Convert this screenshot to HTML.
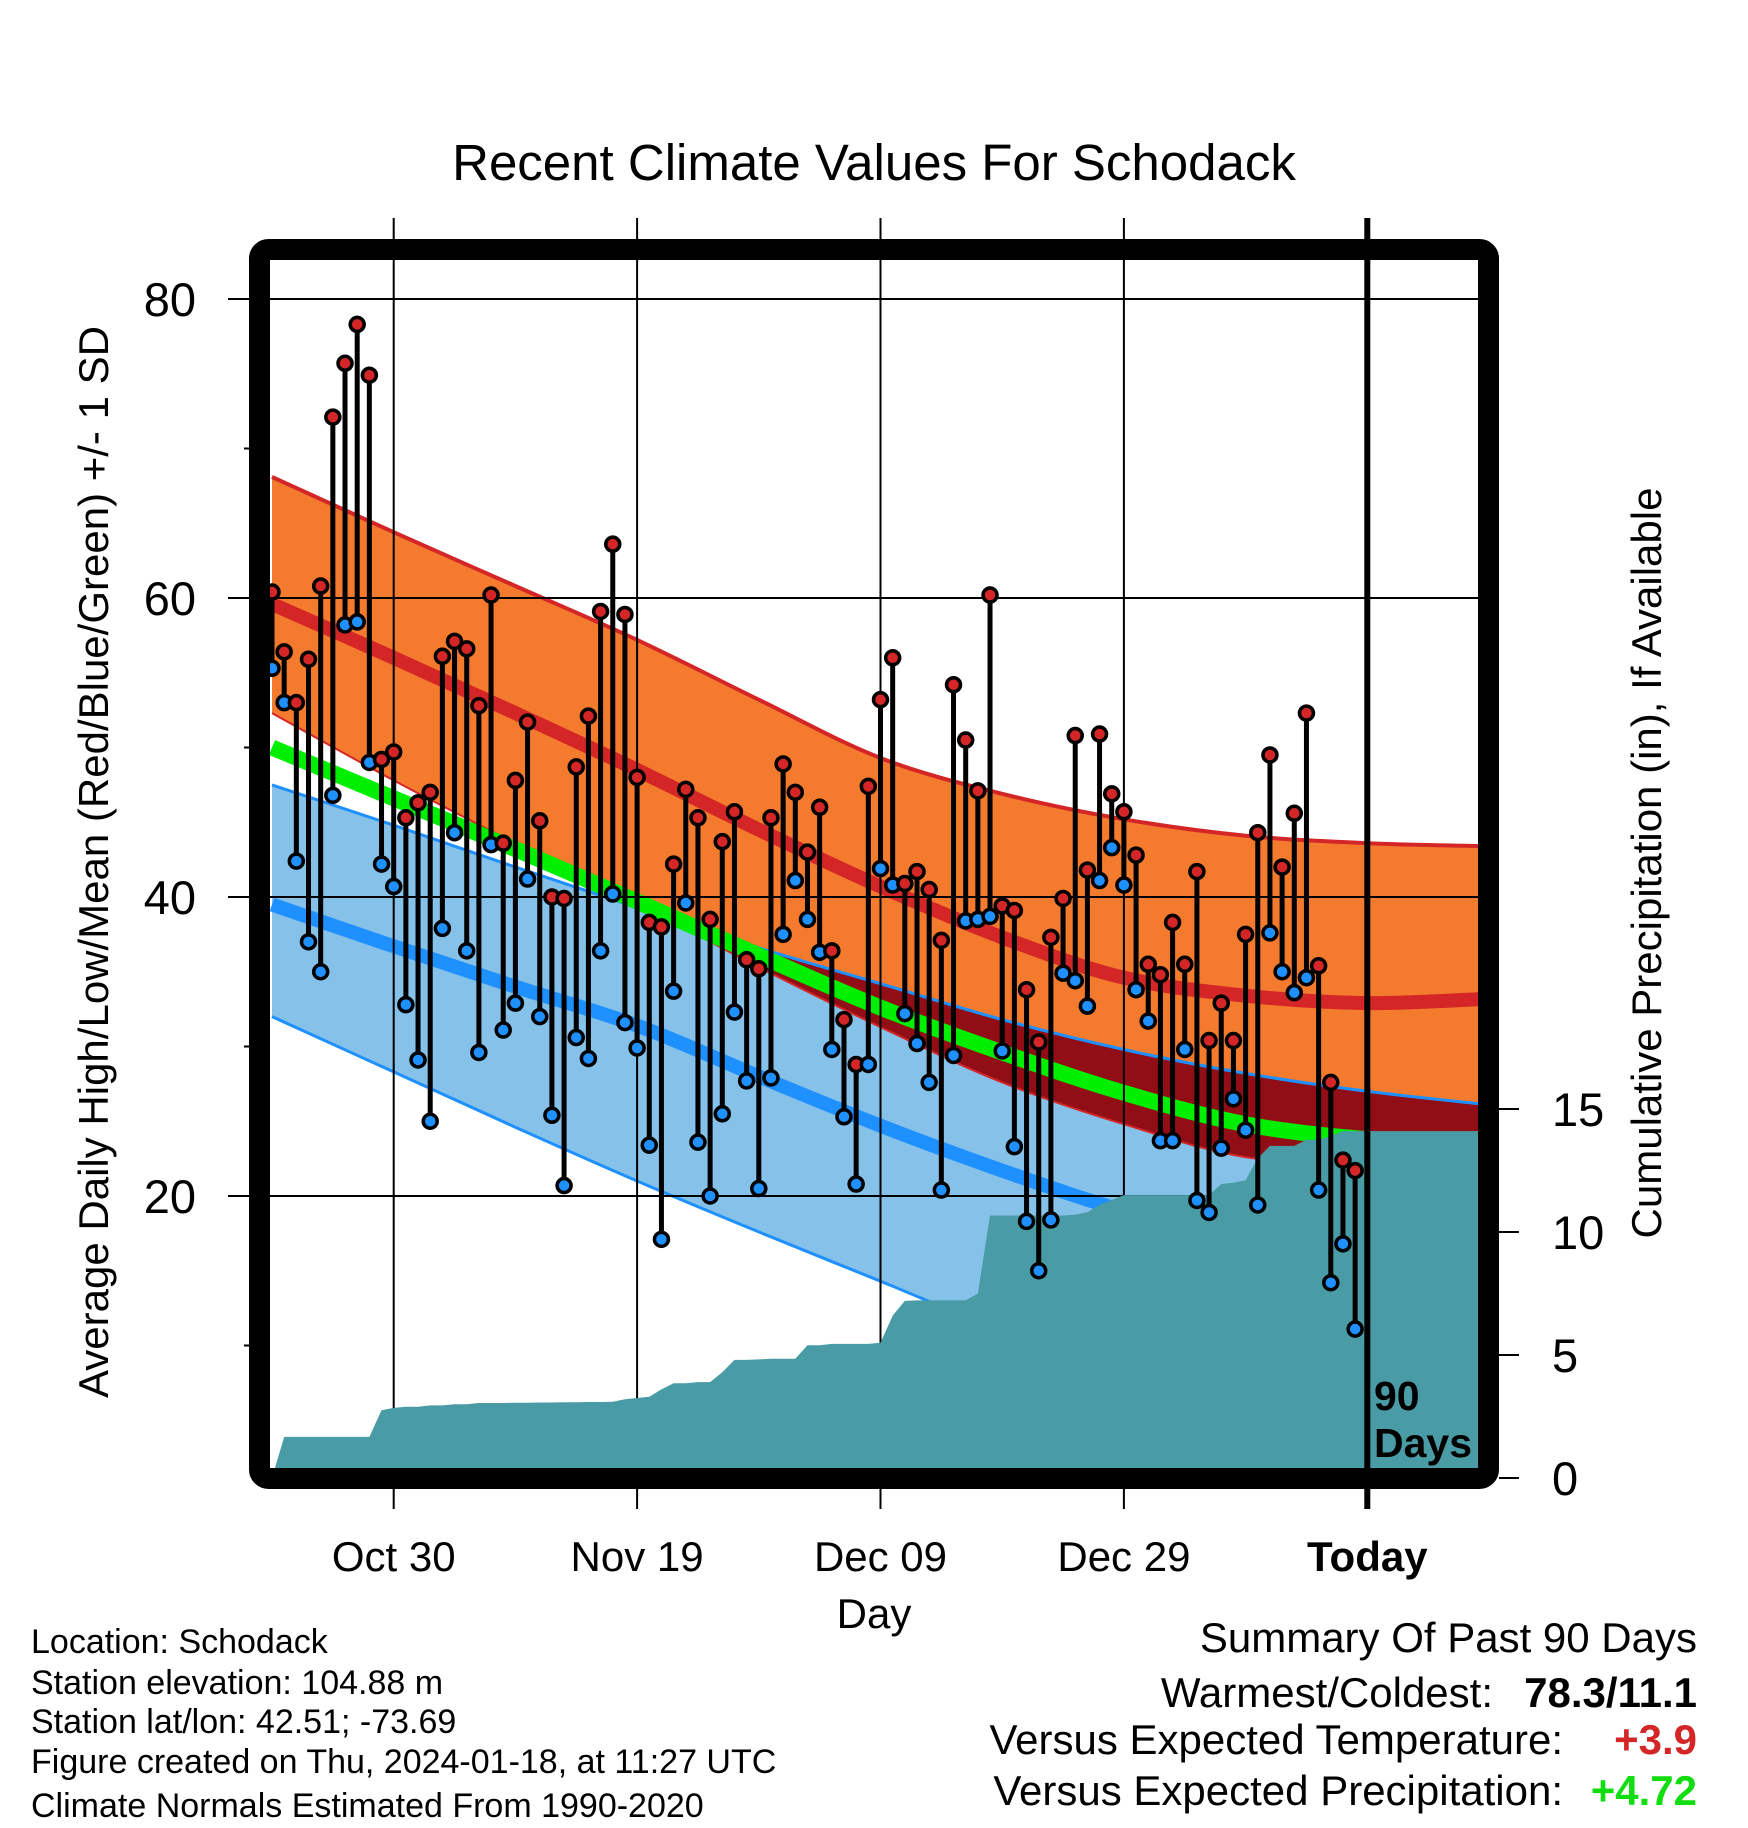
<!DOCTYPE html>
<html><head><meta charset="utf-8">
<style>
html,body{margin:0;padding:0;background:#fff;}
svg{display:block;font-family:"Liberation Sans",Arial,sans-serif;}
</style></head>
<body>
<svg id="chart" width="1748" height="1828" viewBox="0 0 1748 1828" xmlns="http://www.w3.org/2000/svg">
<defs>
  <clipPath id="plotClip"><rect x="270" y="260" width="1208" height="1208"/></clipPath>
  <clipPath id="blueClip"><path id="blueClipPath" d=""/></clipPath>
</defs>
<text x="874" y="180" font-size="51" text-anchor="middle">Recent Climate Values For Schodack</text>
<g id="bands" clip-path="url(#plotClip)"></g>
<g id="grid"></g>
<g id="precip" clip-path="url(#plotClip)"></g>
<g id="stems"></g>
<g id="axes"></g>
<rect x="259.5" y="249.5" width="1229" height="1229" rx="9" fill="none" stroke="#000" stroke-width="21"/>
<text x="1374" y="1410" font-size="41" font-weight="bold">90</text>
<text x="1374" y="1457" font-size="41" font-weight="bold">Days</text>
<text transform="translate(108,862) rotate(-90)" font-size="42" text-anchor="middle">Average Daily High/Low/Mean (Red/Blue/Green) +/- 1 SD</text>
<text transform="translate(1661,863) rotate(-90)" font-size="42" text-anchor="middle">Cumulative Precipitation (in), If Available</text>
<text x="874" y="1628" font-size="42" text-anchor="middle">Day</text>
<g font-size="34">
  <text x="31" y="1653">Location: Schodack</text>
  <text x="31" y="1694">Station elevation: 104.88 m</text>
  <text x="31" y="1733">Station lat/lon: 42.51; -73.69</text>
  <text x="31" y="1773">Figure created on Thu, 2024-01-18, at 11:27 UTC</text>
  <text x="31" y="1817">Climate Normals Estimated From 1990-2020</text>
</g>
<g font-size="42">
  <text x="1697" y="1652" text-anchor="end">Summary Of Past 90 Days</text>
  <text x="1493" y="1707" text-anchor="end">Warmest/Coldest:</text>
  <text x="1697" y="1707" text-anchor="end" font-weight="bold">78.3/11.1</text>
  <text x="1563" y="1754" text-anchor="end">Versus Expected Temperature:</text>
  <text x="1697" y="1754" text-anchor="end" font-weight="bold" fill="#d42626">+3.9</text>
  <text x="1563" y="1805" text-anchor="end">Versus Expected Precipitation:</text>
  <text x="1697" y="1805" text-anchor="end" font-weight="bold" fill="#11dd11">+4.72</text>
</g>
</svg>
<script>
const highs=[60.4,56.4,53,55.9,60.8,72.1,75.7,78.3,74.9,49.2,49.7,45.3,46.3,47,56.1,57.1,56.6,52.8,60.2,43.6,47.8,51.7,45.1,40,39.9,48.7,52.1,59.1,63.6,58.9,48,38.3,38,42.2,47.2,45.3,38.5,43.7,45.7,35.8,35.2,45.3,48.9,47,43,46,36.4,31.8,28.8,47.4,53.2,56,40.9,41.7,40.5,37.1,54.2,50.5,47.1,60.2,39.4,39.1,33.8,30.3,37.3,39.9,50.8,41.8,50.9,46.9,45.7,42.8,35.5,34.8,38.3,35.5,41.7,30.4,32.9,30.4,37.5,44.3,49.5,42,45.6,52.3,35.4,27.6,22.4,21.7];
const lows=[55.3,53,42.4,37,35,46.8,58.2,58.4,49,42.2,40.7,32.8,29.1,25,37.9,44.3,36.4,29.6,43.5,31.1,32.9,41.2,32,25.4,20.7,30.6,29.2,36.4,40.2,31.6,29.9,23.4,17.1,33.7,39.6,23.6,20,25.5,32.3,27.7,20.5,27.9,37.5,41.1,38.5,36.3,29.8,25.3,20.8,28.8,41.9,40.8,32.2,30.2,27.6,20.4,29.4,38.4,38.5,38.7,29.7,23.3,18.3,15,18.4,34.9,34.4,32.7,41.1,43.3,40.8,33.8,31.7,23.7,23.7,29.8,19.7,18.9,23.2,26.5,24.4,19.4,37.6,35,33.6,34.6,20.4,14.2,16.8,11.1];
const precip=[0,1.67,1.67,1.67,1.67,1.67,1.67,1.67,1.67,2.75,2.85,2.9,2.9,2.95,2.95,3.0,3.0,3.05,3.05,3.05,3.06,3.06,3.07,3.07,3.08,3.08,3.09,3.09,3.1,3.2,3.25,3.3,3.6,3.85,3.85,3.9,3.9,4.3,4.8,4.8,4.82,4.85,4.85,4.85,5.4,5.4,5.45,5.45,5.45,5.45,5.5,6.6,7.2,7.22,7.22,7.22,7.22,7.22,7.5,10.67,10.67,10.67,10.67,10.67,10.67,10.67,10.7,10.8,11.1,11.3,11.5,11.5,11.5,11.5,11.5,11.5,11.5,11.5,11.95,12.0,12.1,13.0,13.5,13.5,13.5,13.75,13.75,13.9,14.1,14.1];
const normalDays=[0,10,20,30,40,50,60,70,80,90,100];
const highPlusSD=[68.1,64.4,60.8,57.2,53.2,49.3,46.9,45.2,44.1,43.6,43.4];
const highMean=[59.6,56.0,52.3,48.5,44.5,40.7,37.3,34.6,33.4,32.9,33.2];
const highMinusSD=[52.3,47.8,43.6,39.6,35.3,31.3,27.6,24.8,22.6,22.2,22.7];
const lowPlusSD=[47.5,44.8,42.0,39.3,36.6,34.2,31.8,29.8,28.2,27.0,26.1];
const lowMean=[39.5,36.7,34.0,31.4,28.0,24.7,21.7,19.0,17.0,15.5,14.5];
const lowMinusSD=[32.0,28.3,24.6,21.0,17.6,14.3,11.0,8.5,6.5,5.0,4.0];
const avgMean=[50.0,46.6,43.2,39.7,36.1,32.6,29.6,26.9,24.8,23.8,23.5];
const tempTicks=[20,40,60,80];
const minorTicks=[10,30,50,70];
const precipTicks=[0,5,10,15];
const dateLabels=["Oct 30","Nov 19","Dec 09","Dec 29","Today"];
const dateDays=[10,30,50,70,90];

const NS="http://www.w3.org/2000/svg";
function X(d){return 272+d*12.17;}
function Y(t){return 1495-t*14.95;}
function P(p){return 1478-p*24.6;}
function mk(tag,attrs,parent){const e=document.createElementNS(NS,tag);for(const k in attrs)e.setAttribute(k,attrs[k]);parent.appendChild(e);return e;}
function pts(arr){return normalDays.map((d,i)=>[X(d),Y(arr[i])]);}
function smooth(p){
  let s="";
  for(let i=0;i<p.length-1;i++){
    const p0=p[Math.max(i-1,0)],p1=p[i],p2=p[i+1],p3=p[Math.min(i+2,p.length-1)];
    const c1=[p1[0]+(p2[0]-p0[0])/6,p1[1]+(p2[1]-p0[1])/6];
    const c2=[p2[0]-(p3[0]-p1[0])/6,p2[1]-(p3[1]-p1[1])/6];
    s+="C"+c1[0].toFixed(1)+","+c1[1].toFixed(1)+" "+c2[0].toFixed(1)+","+c2[1].toFixed(1)+" "+p2[0].toFixed(1)+","+p2[1].toFixed(1);
  }
  return s;
}
function linePath(arr){const p=pts(arr);return "M"+p[0][0].toFixed(1)+","+p[0][1].toFixed(1)+smooth(p);}
function bandPath(up,lo){
  const a=pts(up),b=pts(lo).reverse();
  return "M"+a[0][0].toFixed(1)+","+a[0][1].toFixed(1)+smooth(a)+"L"+b[0][0].toFixed(1)+","+b[0][1].toFixed(1)+smooth(b)+"Z";
}

const bands=document.getElementById('bands');
const orangeD=bandPath(highPlusSD,highMinusSD);
const blueD=bandPath(lowPlusSD,lowMinusSD);
document.getElementById('blueClipPath').setAttribute('d',blueD);
let e;
e=mk('path',{d:orangeD,fill:'#f47a2e'},bands);


e=mk('path',{d:blueD,fill:'#85c1e8'},bands);


e=mk('path',{d:orangeD,fill:'#920e16','clip-path':'url(#blueClip)'},bands);


const lines=[[highPlusSD,'#d42626',4,'high-plus-sd-line'],[highMinusSD,'#d42626',2,'high-minus-sd-line'],[highMean,'#d42626',14,'mean-high-line'],[lowPlusSD,'#1e90ff',3,'low-plus-sd-line'],[lowMinusSD,'#1e90ff',3,'low-minus-sd-line'],[lowMean,'#1e90ff',14,'mean-low-line'],[avgMean,'#00ee00',16,'mean-line']];
lines.forEach(l=>{
  const el=mk('path',{d:linePath(l[0]),fill:'none',stroke:l[1],'stroke-width':l[2]},bands);
  
  
});

const grid=document.getElementById('grid');
tempTicks.forEach(t=>{
  const el=mk('line',{x1:228,x2:1478,y1:Y(t),y2:Y(t),stroke:'#000','stroke-width':2},grid);
  
  
});
minorTicks.forEach(t=>{
  const el=mk('line',{x1:244,x2:260,y1:Y(t),y2:Y(t),stroke:'#000','stroke-width':2},grid);
  
  
});
dateDays.slice(0,4).forEach(d=>{
  const el=mk('line',{x1:X(d),x2:X(d),y1:218,y2:1509,stroke:'#000','stroke-width':2},grid);
  
  
});

const pg=document.getElementById('precip');
let pd="M"+X(0)+","+P(0);
precip.forEach((p,i)=>{pd+="L"+X(i).toFixed(1)+","+P(p).toFixed(1);});
pd+="L1480,"+P(precip[precip.length-1]).toFixed(1)+"L1480,1480L"+X(0)+",1480Z";
e=mk('path',{d:pd,fill:'#499ba5'},pg);



const sg=document.getElementById('stems');
highs.forEach((h,i)=>{
  const x=X(i);
  const s=mk('line',{x1:x,x2:x,y1:Y(h),y2:Y(lows[i]),stroke:'#000','stroke-width':5},sg);
  
  
});
highs.forEach((h,i)=>{
  const x=X(i);
  const a=mk('circle',{cx:x,cy:Y(h),r:7,fill:'#d42626',stroke:'#000','stroke-width':3.5},sg);
  
  
  const b=mk('circle',{cx:x,cy:Y(lows[i]),r:7,fill:'#1e90ff',stroke:'#000','stroke-width':3.5},sg);
  
  
});

const ax=document.getElementById('axes');
e=mk('line',{x1:X(90),x2:X(90),y1:218,y2:1509,stroke:'#000','stroke-width':6},ax);


tempTicks.forEach(t=>{
  const el=mk('text',{x:196,y:Y(t)+17,'font-size':47,'text-anchor':'end'},ax);
  el.textContent=String(t);
  
  
});
precipTicks.forEach(p=>{
  const t=mk('line',{x1:1499,x2:1519,y1:P(p),y2:P(p),stroke:'#000','stroke-width':2},ax);
  
  
  const el=mk('text',{x:1552,y:P(p)+17,'font-size':47},ax);
  el.textContent=String(p);
  
  
});
dateLabels.forEach((lab,i)=>{
  const el=mk('text',{x:X(dateDays[i]),y:1571,'font-size':42,'text-anchor':'middle'},ax);
  if(i===4)el.setAttribute('font-weight','bold');
  el.textContent=lab;
  
  
});
</script>
</body></html>
